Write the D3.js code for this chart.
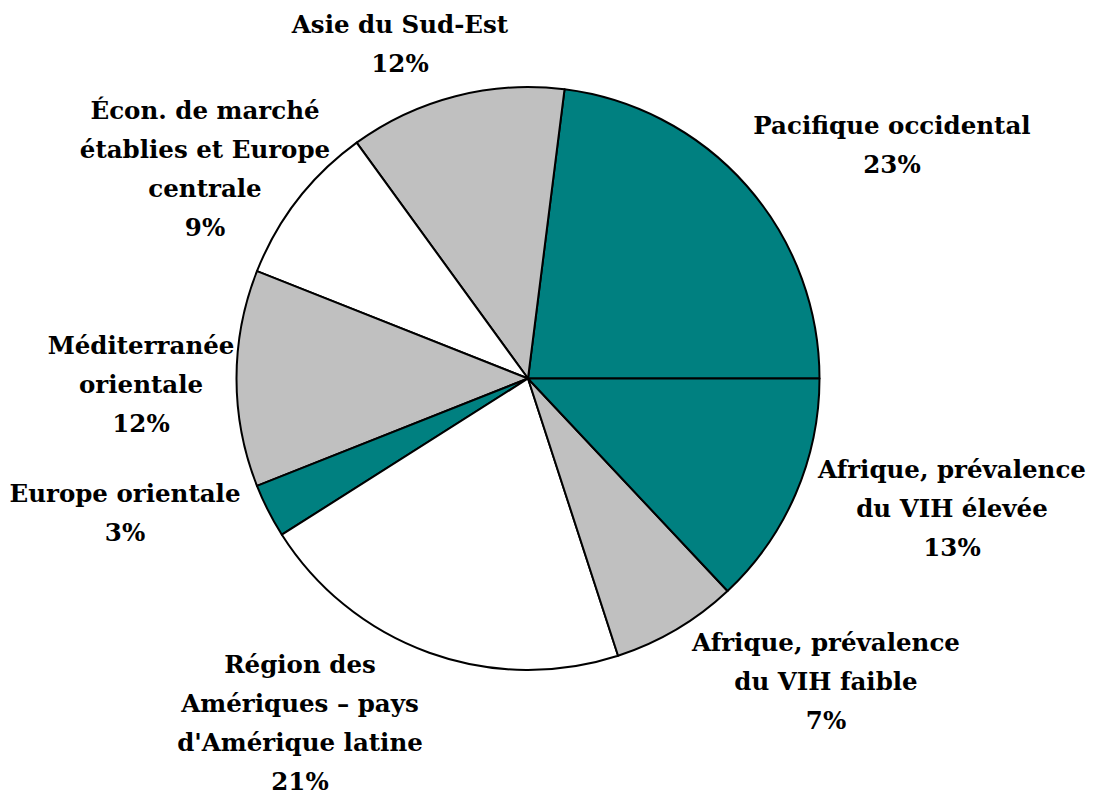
<!DOCTYPE html>
<html>
<head>
<meta charset="utf-8">
<script src="https://cdn.jsdelivr.net/npm/d3@7"></script>
<style>
  html, body { margin: 0; padding: 0; background: #fff; }
  svg { display: block; }
  .lbl { font-family: "DejaVu Serif", serif; font-weight: bold; }
</style>
</head>
<body>
<svg id="chart" width="1105" height="795"></svg>
<script>
// Data (counter-clockwise from 3 o'clock)
const categories = [
  "Pacifique occidental",
  "Asie du Sud-Est",
  "Écon. de marché établies et Europe centrale",
  "Méditerranée orientale",
  "Europe orientale",
  "Région des Amériques – pays d'Amérique latine",
  "Afrique, prévalence du VIH faible",
  "Afrique, prévalence du VIH élevée"
];
const values = [23, 12, 9, 12, 3, 21, 7, 13];
const labelLines = [
  ["Pacifique occidental"],
  ["Asie du Sud-Est"],
  ["Écon. de marché", "établies et Europe", "centrale"],
  ["Méditerranée", "orientale"],
  ["Europe orientale"],
  ["Région des", "Amériques – pays", "d'Amérique latine"],
  ["Afrique, prévalence", "du VIH faible"],
  ["Afrique, prévalence", "du VIH élevée"]
];

// Styling / layout (not data)
const sliceColors = ["#008080", "#C0C0C0", "#FFFFFF", "#C0C0C0", "#008080", "#FFFFFF", "#C0C0C0", "#008080"];
const labelOffsets = [[364, -235], [-128, -336], [-323, -211], [-387, 4], [-403, 133], [-228, 343], [298, 301], [424, 128]];

const cx = 528, cy = 378.5, radius = 291.5;
const lineH = 39;

const svg = d3.select("#chart");
const g = svg.append("g").attr("transform", `translate(${cx},${cy})`);

const pie = d3.pie()
  .sort(null)
  .value(d => d)
  .startAngle(Math.PI / 2)
  .endAngle(Math.PI / 2 - 2 * Math.PI);

const arc = d3.arc().innerRadius(0).outerRadius(radius);
const arcs = pie(values);

g.selectAll("path.slice")
  .data(arcs)
  .join("path")
  .attr("class", "slice")
  .attr("d", arc)
  .attr("fill", (d, i) => sliceColors[i])
  .attr("stroke", "#000")
  .attr("stroke-width", 2)
  .attr("stroke-linejoin", "round");

const labels = g.selectAll("text.lbl")
  .data(arcs)
  .join("text")
  .attr("class", "lbl")
  .attr("text-anchor", "middle")
  .style("font-size", "24.5px")
  .attr("fill", "#000");

labels.each(function(d, i) {
  const lines = labelLines[i].concat([d3.format("d")(values[i]) + "%"]);
  const n = lines.length;
  const [ox, oy] = labelOffsets[i];
  const t = d3.select(this);
  lines.forEach((ln, k) => {
    t.append("tspan")
      .attr("x", ox)
      .attr("y", oy + (k - (n - 1) / 2) * lineH + 10)
      .text(ln);
  });
});
</script>
</body>
</html>
